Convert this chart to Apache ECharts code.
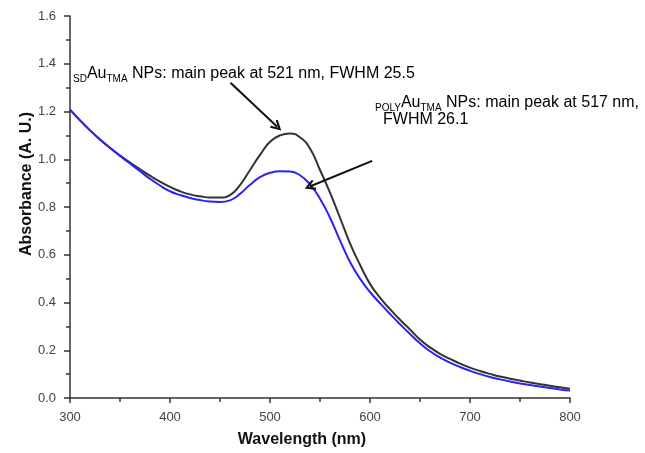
<!DOCTYPE html>
<html>
<head>
<meta charset="utf-8">
<script src="https://cdn.jsdelivr.net/npm/echarts@6/dist/echarts.min.js"></script>
<style>
  html, body { margin: 0; padding: 0; background: #fff; }
  #chart { width: 645px; height: 453px; }
</style>
</head>
<body>
<div id="chart"></div>
<script>
// wavelength (nm)
var wavelengths = [300, 310, 320, 330, 340, 350, 360, 370, 380, 390,
  400, 410, 420, 430, 440, 450, 460, 470, 480, 490,
  500, 510, 520, 530, 540, 550, 560, 570, 580, 590,
  600, 610, 620, 630, 640, 650, 660, 670, 680, 690,
  700, 710, 720, 730, 740, 750, 760, 770, 780, 790, 800];
// SD Au TMA NPs (black)
var sdAbs = [1.208, 1.163, 1.121, 1.083, 1.048, 1.016, 0.986, 0.958, 0.931, 0.906,
  0.884, 0.866, 0.853, 0.845, 0.840, 0.840, 0.850, 0.892, 0.955, 1.018,
  1.073, 1.100, 1.108, 1.092, 1.045, 0.955, 0.860, 0.755, 0.648, 0.558,
  0.478, 0.420, 0.372, 0.328, 0.287, 0.245, 0.212, 0.185, 0.164, 0.144,
  0.127, 0.113, 0.101, 0.090, 0.081, 0.073, 0.065, 0.058, 0.051, 0.045, 0.039];
// POLY Au TMA NPs (blue)
var polyAbs = [1.208, 1.163, 1.121, 1.083, 1.047, 1.014, 0.982, 0.950, 0.918, 0.890,
  0.866, 0.850, 0.838, 0.829, 0.823, 0.821, 0.828, 0.855, 0.893, 0.925,
  0.943, 0.950, 0.949, 0.933, 0.895, 0.835, 0.755, 0.660, 0.570, 0.500,
  0.444, 0.397, 0.352, 0.309, 0.268, 0.229, 0.196, 0.170, 0.148, 0.130,
  0.114, 0.100, 0.088, 0.078, 0.069, 0.061, 0.054, 0.048, 0.042, 0.036, 0.031];

// arrows [from, to] in data coords
var arrowSD = [[460.5, 1.32], [507.2, 1.136]];
var arrowPOLY = [[602.2, 0.993], [539.8, 0.886]];

function pairs(xs, ys) {
  return xs.map(function (x, i) { return [x, ys[i]]; });
}

var txtFont = 'Liberation Sans, Arial, sans-serif';
var rich = {
  m: { fontSize: 16, lineHeight: 20, fontFamily: txtFont, color: '#111', verticalAlign: 'middle' },
  s: { fontSize: 10, lineHeight: 10, fontFamily: txtFont, color: '#111', verticalAlign: 'bottom' }
};
// open arrow head, tip pointing along the line
var chevron = 'path://M5,0 L10,9 L8.4,10 L5,4 L1.6,10 L0,9 Z';

var chart = echarts.init(document.getElementById('chart'));
var option = {
  animation: false,
  backgroundColor: '#fff',
  grid: { left: 70, right: 75, top: 16, bottom: 53 },
  xAxis: {
    type: 'value',
    min: 300, max: 800, interval: 100,
    name: 'Wavelength (nm)',
    nameLocation: 'middle',
    nameGap: 34,
    nameMoveOverlap: false,
    nameTextStyle: { fontSize: 16, fontWeight: 'bold', color: '#111', fontFamily: txtFont, padding: [0, 36, 0, 0] },
    axisLine: { lineStyle: { color: '#333', width: 1.5 } },
    axisTick: { inside: false, length: 5, lineStyle: { color: '#333', width: 1.5 } },
    minorTick: { show: true, splitNumber: 2, length: 4, lineStyle: { color: '#333', width: 1.5 } },
    axisLabel: { margin: 13, fontSize: 13, color: '#444', fontFamily: txtFont },
    splitLine: { show: false }
  },
  yAxis: {
    type: 'value',
    min: 0, max: 1.6, interval: 0.2,
    name: 'Absorbance (A. U.)',
    nameLocation: 'middle',
    nameGap: 35,
    nameMoveOverlap: false,
    nameTextStyle: { fontSize: 16, fontWeight: 'bold', color: '#111', fontFamily: txtFont, padding: [0, 0, 0, 46] },
    axisLine: { show: true, lineStyle: { color: '#333', width: 1.5 } },
    axisTick: { show: true, length: 6, lineStyle: { color: '#333', width: 1.5 } },
    minorTick: { show: true, splitNumber: 2, length: 4, lineStyle: { color: '#333', width: 1.5 } },
    axisLabel: {
      margin: 14, fontSize: 13, color: '#444', fontFamily: txtFont,
      formatter: function (v) { return v.toFixed(1); }
    },
    splitLine: { show: false }
  },
  series: [
    {
      name: 'SD',
      type: 'line',
      data: pairs(wavelengths, sdAbs),
      smooth: true,
      showSymbol: false,
      lineStyle: { color: '#333', width: 2 },
      markLine: {
        silent: true,
        symbol: ['none', chevron],
        symbolSize: [11, 11],
        label: { show: false },
        lineStyle: { color: '#111', width: 2, type: 'solid' },
        data: [
          [{ coord: arrowSD[0] }, { coord: arrowSD[1] }],
          [{ coord: arrowPOLY[0] }, { coord: arrowPOLY[1] }]
        ]
      }
    },
    {
      name: 'POLY',
      type: 'line',
      data: pairs(wavelengths, polyAbs),
      smooth: true,
      showSymbol: false,
      lineStyle: { color: '#2b22f7', width: 2 }
    }
  ],
  graphic: [
    {
      type: 'text', left: 73, top: 66,
      style: { text: '{s|SD}{m|Au}{s|TMA}{m| NPs: main peak at 521 nm, FWHM 25.5}', rich: rich }
    },
    {
      type: 'text', left: 375, top: 95,
      style: { text: '{s|POLY}{m|Au}{s|TMA}{m| NPs: main peak at 517 nm,}', rich: rich }
    },
    {
      type: 'text', left: 383, top: 112,
      style: { text: '{m|FWHM 26.1}', rich: rich }
    }
  ]
};
chart.setOption(option);
</script>
</body>
</html>
